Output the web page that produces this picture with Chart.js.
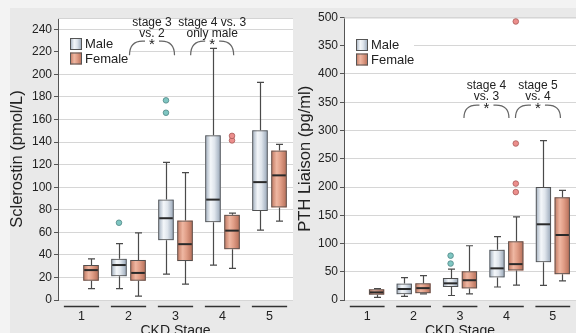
<!DOCTYPE html>
<html>
<head>
<meta charset="utf-8">
<script src="https://cdn.jsdelivr.net/npm/chart.js@4.4.1/dist/chart.umd.min.js"></script>
<style>
  html, body { margin: 0; padding: 0; overflow: hidden; background: #f3f3f3; }
  #wrap { position: relative; width: 576px; height: 333px; }
  #inner { position: absolute; left: 10px; top: 8px; right: 0; bottom: 0; background: #e9e9e9; }
  canvas { position: absolute; top: 0; }
</style>
</head>
<body>
<div id="wrap">
  <div id="inner"></div>
  <canvas id="scl" width="293" height="340" style="left:0px"></canvas>
  <canvas id="pth" width="283" height="340" style="left:293px"></canvas>
</div>
<script>
const stages = ['1', '2', '3', '4', '5'];

// Sclerostin (pmol/L)
const sclMaleMin = [null, 10, 23, 31, 62];
const sclMaleQ1 = [null, 21, 53, 69, 79];
const sclMaleMed = [null, 31, 72.5, 89, 104.5];
const sclMaleQ3 = [null, 36.5, 89, 146, 150.5];
const sclMaleMax = [null, 50, 122, 223, 193];
const sclMaleOut = [[], [68.5], [166, 177], [], []];
const sclFemMin = [10, 3.5, 14, 28, 70];
const sclFemQ1 = [17, 17, 34.5, 45, 82];
const sclFemMed = [26.5, 24, 49.5, 61.5, 110.5];
const sclFemQ3 = [31, 35.5, 70.5, 75.5, 132.5];
const sclFemMax = [36.5, 59.5, 113, 77, 138];
const sclFemOut = [[], [], [], [141.5, 145.5], []];
const sclTicks = [0, 20, 40, 60, 80, 100, 120, 140, 160, 180, 200, 220, 240];
const sclTickLabels = ['0', '20', '40', '60', '80', '100', '120', '140', '160', '180', '200', '220', '240'];

// PTH Liaison (pg/ml)
const pthMaleMin = [null, 6.5, 8, 23, 26];
const pthMaleQ1 = [null, 10, 23, 40, 67];
const pthMaleMed = [null, 19.5, 29.5, 56, 134];
const pthMaleQ3 = [null, 29, 39, 89, 200];
const pthMaleMax = [null, 39.5, 54.5, 112, 282];
const pthMaleOut = [[], [], [64.5, 78.5], [], []];
const pthFemMin = [4.7, 10.7, 11, 26.5, 34];
const pthFemQ1 = [9.5, 12, 20.5, 52, 45.5];
const pthFemMed = [13.5, 21, 35, 63.5, 115];
const pthFemQ3 = [19, 29.5, 51, 104, 182];
const pthFemMax = [20, 43, 96, 147, 194];
const pthFemOut = [[], [], [], [191, 206, 277, 493], []];
const pthTicks = [0, 50, 100, 150, 200, 250, 300, 350, 400, 450, 500];
const pthTickLabels = ['0', '50', '100', '150', '200', '250', '300', '350', '400', '350', '500'];

Chart.defaults.font.family = '"Liberation Sans", Arial, sans-serif';
Chart.defaults.color = '#222';

const FONT = '"Liberation Sans", Arial, sans-serif';

function boxGradient(ctx, x0, x1, male) {
  const g = ctx.createLinearGradient(x0, 0, x1, 0);
  if (male) {
    g.addColorStop(0, '#9eacbc');
    g.addColorStop(0.35, '#f4f7fa');
    g.addColorStop(0.6, '#dfe5ec');
    g.addColorStop(1, '#95a4b6');
  } else {
    g.addColorStop(0, '#bf765f');
    g.addColorStop(0.35, '#efb7a2');
    g.addColorStop(0.6, '#e09d86');
    g.addColorStop(1, '#b46c56');
  }
  return g;
}

function drawBracket(ctx, x0, x1, yTop, yBot) {
  const xc = (x0 + x1) / 2;
  ctx.beginPath();
  ctx.moveTo(x0, yBot);
  ctx.quadraticCurveTo(x0, yTop, x0 + 13, yTop);
  ctx.lineTo(xc - 7, yTop);
  ctx.moveTo(xc + 7, yTop);
  ctx.lineTo(x1 - 13, yTop);
  ctx.quadraticCurveTo(x1, yTop, x1, yBot);
  ctx.stroke();
}

function makeChart(id, s) {
  const pair = (lo, hi) => stages.map((_, i) => lo[i] == null ? null : [lo[i], hi[i]]);

  const boxPlugin = {
    id: 'box',
    beforeDraw(chart) {
      const a = chart.chartArea, ctx = chart.ctx;
      ctx.save();
      ctx.fillStyle = '#fff';
      ctx.fillRect(a.left, a.top, a.right - a.left, a.bottom - a.top);
      ctx.restore();
    },
    beforeDatasetsDraw(chart) {
      const a = chart.chartArea, ctx = chart.ctx;
      ctx.save();
      // top border
      ctx.strokeStyle = '#d4d4d4';
      ctx.lineWidth = 1;
      ctx.beginPath();
      ctx.moveTo(a.left, a.top + 0.5);
      ctx.lineTo(a.right, a.top + 0.5);
      ctx.stroke();
      // legend
      const lx = a.left + 12;
      ctx.fillStyle = '#fff';
      ctx.fillRect(a.left + 1, s.legendY - 7, s.legendW, 36);
      ['Male', 'Female'].forEach((name, k) => {
        const y = s.legendY + k * 14.5;
        ctx.fillStyle = boxGradient(ctx, lx, lx + 12, k === 0);
        ctx.fillRect(lx, y, 12, 12);
        ctx.strokeStyle = '#555';
        ctx.strokeRect(lx + 0.5, y + 0.5, 11, 11);
        ctx.fillStyle = '#222';
        ctx.font = '13px ' + FONT;
        ctx.textBaseline = 'middle';
        ctx.textAlign = 'left';
        ctx.fillText(name, lx + 15, y + 6.5);
      });
      // gradient fills of the boxes
      chart.data.datasets.forEach((ds, di) => {
        const meta = chart.getDatasetMeta(di);
        meta.data.forEach((el, j) => {
          if (ds.data[j] == null) return;
          const top = Math.min(el.y, el.base), bot = Math.max(el.y, el.base);
          ctx.fillStyle = boxGradient(ctx, el.x - el.width / 2, el.x + el.width / 2, di === 0);
          ctx.fillRect(el.x - el.width / 2, top, el.width, bot - top);
        });
      });
      ctx.restore();
    },
    afterDatasetsDraw(chart) {
      const ctx = chart.ctx, y = chart.scales.y, x = chart.scales.x;
      const groups = [
        { min: s.maleMin, q1: s.maleQ1, med: s.maleMed, q3: s.maleQ3, max: s.maleMax, out: s.maleOut, fill: '#7fc6c2', edge: '#4f8785' },
        { min: s.femMin, q1: s.femQ1, med: s.femMed, q3: s.femQ3, max: s.femMax, out: s.femOut, fill: '#ec8e8c', edge: '#a85a58' }
      ];
      ctx.save();
      groups.forEach((g, di) => {
        const meta = chart.getDatasetMeta(di);
        meta.data.forEach((el, j) => {
          if (g.q1[j] == null) return;
          const cx = Math.round(el.x) + 0.5, w = el.width;
          ctx.strokeStyle = '#4a4a4a';
          ctx.lineWidth = 1.2;
          ctx.beginPath();
          ctx.moveTo(cx, y.getPixelForValue(g.q3[j]));
          ctx.lineTo(cx, y.getPixelForValue(g.max[j]));
          ctx.moveTo(cx, y.getPixelForValue(g.q1[j]));
          ctx.lineTo(cx, y.getPixelForValue(g.min[j]));
          ctx.moveTo(cx - 3.5, y.getPixelForValue(g.max[j]));
          ctx.lineTo(cx + 3.5, y.getPixelForValue(g.max[j]));
          ctx.moveTo(cx - 3.5, y.getPixelForValue(g.min[j]));
          ctx.lineTo(cx + 3.5, y.getPixelForValue(g.min[j]));
          ctx.stroke();
          ctx.strokeStyle = '#2a2a2a';
          ctx.lineWidth = 2;
          ctx.beginPath();
          const my = y.getPixelForValue(g.med[j]);
          ctx.moveTo(el.x - w / 2 + 1, my);
          ctx.lineTo(el.x + w / 2 - 1, my);
          ctx.stroke();
          g.out[j].forEach(v => {
            ctx.beginPath();
            ctx.arc(el.x, y.getPixelForValue(v), 2.8, 0, Math.PI * 2);
            ctx.fillStyle = g.fill;
            ctx.fill();
            ctx.lineWidth = 0.8;
            ctx.strokeStyle = g.edge;
            ctx.stroke();
          });
        });
      });
      // significance brackets
      s.notes.forEach(n => {
        const xc = x.getPixelForValue(n.at);
        ctx.fillStyle = '#222';
        ctx.font = '12px ' + FONT;
        ctx.textAlign = 'center';
        ctx.textBaseline = 'middle';
        n.lines.forEach((t, k) => ctx.fillText(t, xc, y.getPixelForValue(n.textY[k])));
        ctx.strokeStyle = '#666';
        ctx.lineWidth = 1.2;
        drawBracket(ctx, xc - n.half, xc + n.half, y.getPixelForValue(n.top), y.getPixelForValue(n.bottom));
        ctx.font = '15px ' + FONT;
        ctx.fillText('*', xc, y.getPixelForValue(n.top) + 4);
      });
      ctx.restore();
    },
    afterDraw(chart) {
      const ctx = chart.ctx, a = chart.chartArea, x = chart.scales.x;
      const cw = (a.right - a.left) / stages.length;
      ctx.save();
      ctx.strokeStyle = '#333';
      ctx.lineWidth = 1.5;
      stages.forEach((_, i) => {
        const cx = x.getPixelForValue(i);
        ctx.beginPath();
        ctx.moveTo(cx - cw * 0.375, a.bottom + 6.5);
        ctx.lineTo(cx + cw * 0.375, a.bottom + 6.5);
        ctx.stroke();
      });
      ctx.restore();
    }
  };

  return new Chart(document.getElementById(id), {
    type: 'bar',
    data: {
      labels: stages,
      datasets: [
        { label: 'Male', data: pair(s.maleQ1, s.maleQ3) },
        { label: 'Female', data: pair(s.femQ1, s.femQ3) }
      ]
    },
    options: {
      responsive: false,
      animation: false,
      categoryPercentage: 0.81,
      barPercentage: 0.82,
      backgroundColor: 'rgba(0,0,0,0)',
      borderColor: '#505050',
      borderWidth: 1,
      borderSkipped: false,
      layout: { padding: { top: s.padTop, right: 0, left: 0, bottom: 0 } },
      plugins: { legend: { display: false }, tooltip: { enabled: false } },
      scales: {
        x: {
          grid: { display: false, drawTicks: false },
          border: { display: false },
          ticks: { font: { size: 12.5 }, color: '#222', padding: 9 },
          title: { display: true, text: 'CKD Stage', font: { size: 14 }, color: '#222', padding: { top: 0, bottom: 0 } },
          afterFit(scale) { scale.height = 40; }
        },
        y: {
          min: 0,
          max: s.max,
          afterBuildTicks(scale) { scale.ticks = s.ticks.map(v => ({ value: v })); },
          ticks: {
            font: { size: 12 },
            color: '#222',
            padding: 2,
            callback: (v) => s.tickLabels[s.ticks.indexOf(v)]
          },
          grid: { color: '#d6d6d6', tickColor: '#555', tickLength: 4 },
          border: { color: '#555', width: 1 },
          title: { display: true, text: s.title, font: { size: 16.5 }, color: '#222', padding: { top: s.titlePad, bottom: 0 } },
          afterFit(scale) { scale.width = s.axisW; }
        }
      }
    },
    plugins: [boxPlugin]
  });
}

makeChart('scl', {
  maleMin: sclMaleMin, maleQ1: sclMaleQ1, maleMed: sclMaleMed, maleQ3: sclMaleQ3, maleMax: sclMaleMax, maleOut: sclMaleOut,
  femMin: sclFemMin, femQ1: sclFemQ1, femMed: sclFemMed, femQ3: sclFemQ3, femMax: sclFemMax, femOut: sclFemOut,
  ticks: sclTicks, tickLabels: sclTickLabels, max: 250,
  title: 'Sclerostin (pmol/L)', titlePad: 8, axisW: 58, padTop: 18,
  legendY: 38, legendW: 71,
  notes: [
    { at: 1.5, lines: ['stage 3', 'vs. 2'], textY: [246, 236], top: 229.5, bottom: 217, half: 22.5 },
    { at: 2.78, lines: ['stage 4 vs. 3', 'only male'], textY: [246, 236], top: 229.5, bottom: 217, half: 21.5 }
  ]
});

makeChart('pth', {
  maleMin: pthMaleMin, maleQ1: pthMaleQ1, maleMed: pthMaleMed, maleQ3: pthMaleQ3, maleMax: pthMaleMax, maleOut: pthMaleOut,
  femMin: pthFemMin, femQ1: pthFemQ1, femMed: pthFemMed, femQ3: pthFemQ3, femMax: pthFemMax, femOut: pthFemOut,
  ticks: pthTicks, tickLabels: pthTickLabels, max: 500,
  title: 'PTH Liaison (pg/ml)', titlePad: 3, axisW: 51, padTop: 17.5,
  legendY: 39, legendW: 69,
  notes: [
    { at: 2.57, lines: ['stage 4', 'vs. 3'], textY: [379, 360], top: 345, bottom: 322, half: 22.5 },
    { at: 3.68, lines: ['stage 5', 'vs. 4'], textY: [379, 360], top: 345, bottom: 322, half: 22.5 }
  ]
});
</script>
</body>
</html>
